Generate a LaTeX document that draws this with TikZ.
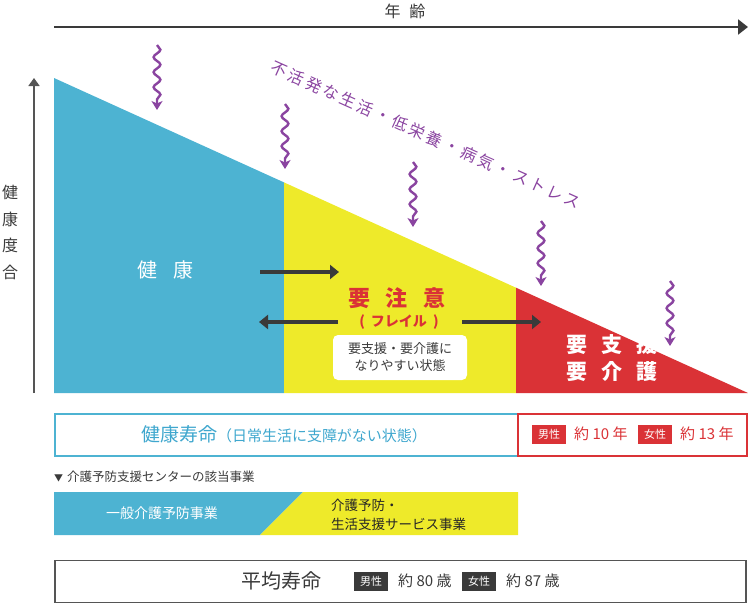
\documentclass[tikz,border=0pt]{standalone}
\usepackage{fontspec}
\setmainfont{Noto Sans CJK JP}
\usetikzlibrary{arrows.meta,decorations.pathmorphing}
\definecolor{cblue}{HTML}{4DB3D2}
\definecolor{cbluetext}{HTML}{3FA7CE}
\definecolor{cyellow}{HTML}{EEEA2A}
\definecolor{cred}{HTML}{DA3236}
\definecolor{cpurple}{HTML}{8A44A0}
\definecolor{cdark}{HTML}{3A3A3A}
\definecolor{cgrey}{HTML}{555555}
\newcommand\fsz[1]{\fontsize{#1}{#1}\selectfont}
\newcommand\fszb[2]{\fontsize{#1}{#2}\selectfont}
\begin{document}
\begin{tikzpicture}[x=1pt,y=-1pt,
  wavy/.style={draw=cpurple,line width=2.4pt,decorate,
    decoration={snake,segment length=15pt,amplitude=3.4pt,post length=9pt},
    -{Stealth[length=9pt,width=11pt,inset=2.5pt]}},
  darr/.style={draw=cdark,line width=3.2pt,-{Triangle[length=9pt,width=14pt]}},
  badge/.style={text=white,font=\fsz{11},minimum width=34pt,minimum height=19pt,inner sep=0pt},
  ]
\useasboundingbox (0,0) rectangle (748,603);
% coordinates of the triangle
\coordinate (T) at (54,78);
\coordinate (B1) at (284,182.4);
\coordinate (B2) at (516,287.7);
\coordinate (R) at (748,393);
\coordinate (BL) at (54,393);
\coordinate (BB1) at (284,393);
\coordinate (BB2) at (516,393);
\fill[cblue] (T) -- (B1) -- (BB1) -- (BL) -- cycle;
\fill[cyellow] (B1) -- (B2) -- (BB2) -- (BB1) -- cycle;
\fill[cred] (B2) -- (R) -- (BB2) -- cycle;
% axes
\coordinate (ax1) at (54,27);
\coordinate (ax2) at (748,27);
\draw[cdark,line width=2.4pt,-{Triangle[length=10pt,width=15pt]}] (ax1) -- (ax2);
\node[text=cdark,font=\fsz{16}] (age) at (405,11) {年\hspace{9pt}齢};
\coordinate (ay1) at (34,393);
\coordinate (ay2) at (34,78);
\draw[cgrey,line width=1.8pt,-{Triangle[length=8pt,width=11pt]}] (ay1) -- (ay2);
\node[text=cdark,font=\fszb{16}{26.5},align=center] (health) at (10,232.5) {健\\康\\度\\合};
% wavy arrows
\coordinate (w1a) at (157,45);  \coordinate (w1b) at (157,110);
\coordinate (w2a) at (285,104); \coordinate (w2b) at (285,169);
\coordinate (w3a) at (413,162); \coordinate (w3b) at (413,227);
\coordinate (w4a) at (541,221); \coordinate (w4b) at (541,286);
\coordinate (w5a) at (670,281); \coordinate (w5b) at (670,346);
\foreach \i in {1,...,5} \draw[wavy] (w\i a) -- (w\i b);
\node[text=cpurple,font=\fsz{16}\addfontfeature{LetterSpace=18},rotate=-24.1] (cause) at (426,135) {不活発な生活・低栄養・病気・ストレス};
% labels in triangle
\node[text=white,font=\fsz{20}] (kenko) at (165,270) {健\hspace{16pt}康};
\node[text=cred,font=\fsz{22}\bfseries] (yochui) at (397,298) {要\hspace{16pt}注\hspace{16pt}意};
\node[text=cred,font=\fsz{14}] (frail) at (399,322) {\textbf{(}\hspace{6pt}\textbf{フレイル}\hspace{6pt}\textbf{)}};
\node[fill=white,rounded corners=5pt,minimum width=134pt,minimum height=45pt,inner sep=0pt,
  text=cdark,font=\fszb{13}{17},align=center] (note) at (400,357.5) {要支援・要介護に\\なりやすい状態};
\node[text=white,font=\fszb{21}{27}\bfseries,align=center] (yoshien) at (612,358.5) {要\hspace{14pt}支\hspace{14pt}援\\要\hspace{14pt}介\hspace{14pt}護};
% dark arrows
\coordinate (d1a) at (260,272); \coordinate (d1b) at (339,272);
\coordinate (d2a) at (338,322); \coordinate (d2b) at (259,322);
\coordinate (d3a) at (462,322); \coordinate (d3b) at (541,322);
\draw[darr] (d1a) -- (d1b);
\draw[darr] (d2a) -- (d2b);
\draw[darr] (d3a) -- (d3b);
% healthy life expectancy row
\node[draw=cblue,line width=1.8pt,minimum width=463pt,minimum height=42pt,inner sep=0pt,anchor=north west] (hbox) at (54,413) {};
\node[draw=cred,line width=1.8pt,minimum width=229pt,minimum height=42pt,inner sep=0pt,anchor=north west] (rbox) at (517,413) {};
\node[text=cbluetext] (htext) at (284,434) {{\fsz{19}健康寿命}{\fsz{15}（日常生活に支障がない状態）}};
\node[badge,fill=cred] (m1) at (549,434) {男性};
\node[text=cred,font=\fsz{15},anchor=west,inner sep=0pt] (m1t) at (574,434) {約 10 年};
\node[badge,fill=cred] (f1) at (655,434) {女性};
\node[text=cred,font=\fsz{15},anchor=west,inner sep=0pt] (f1t) at (680,434) {約 13 年};
% center services
\node[text=cdark,font=\fsz{12.5},anchor=west,inner sep=0pt] (center) at (54,477) {{\fsz{9}▼}\hspace{4pt}介護予防支援センターの該当事業};
\coordinate (s1) at (54,492); \coordinate (s2) at (303,492); \coordinate (s3) at (518,492);
\coordinate (s4) at (518,535); \coordinate (s5) at (260,535); \coordinate (s6) at (54,535);
\fill[cblue] (s1) -- (s2) -- (s5) -- (s6) -- cycle;
\fill[cyellow] (s2) -- (s3) -- (s4) -- (s5) -- cycle;
\node[text=white,font=\fsz{14}] (gen) at (162,513) {一般介護予防事業};
\node[text=black!85,font=\fszb{13.5}{19},align=left,anchor=west,inner sep=0pt] (life) at (331,514.5) {介護予防・\\生活支援サービス事業};
% average life expectancy
\node[draw=cgrey,line width=1.8pt,minimum width=691pt,minimum height=42pt,inner sep=0pt,anchor=north west] (abox) at (54,559.5) {};
\node[text=cdark,font=\fsz{20},anchor=west,inner sep=0pt] (avg) at (241,581) {平均寿命};
\node[badge,fill=cdark] (m2) at (371,581) {男性};
\node[text=cdark,font=\fsz{15},anchor=west,inner sep=0pt] (m2t) at (398,581) {約 80 歳};
\node[badge,fill=cdark] (f2) at (479,581) {女性};
\node[text=cdark,font=\fsz{15},anchor=west,inner sep=0pt] (f2t) at (506,581) {約 87 歳};
\end{tikzpicture}
\end{document}
